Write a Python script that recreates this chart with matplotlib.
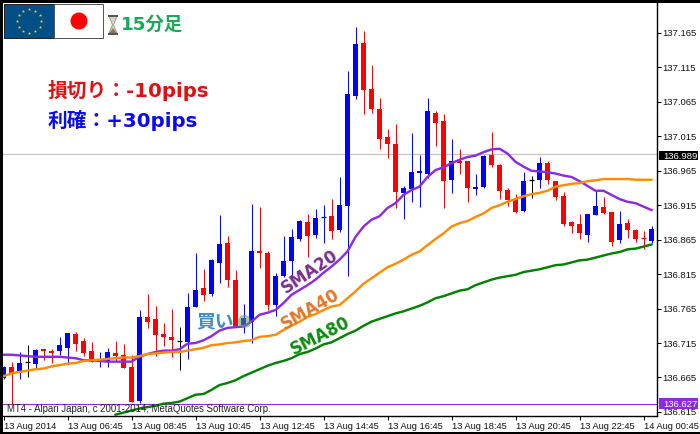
import numpy as np
import matplotlib
matplotlib.use("Agg")
import matplotlib.pyplot as plt
from matplotlib.patches import Rectangle, Polygon, Circle

opens = [136.664,136.680,136.672,136.688,136.685,136.706,136.703,136.703,136.708,136.728,136.718,136.703,136.688,136.688,136.701,136.698,136.680,136.631,136.753,136.750,136.728,136.724,136.718,136.717,136.767,136.795,136.786,136.831,136.860,136.807,136.741,136.746,136.849,136.846,136.770,136.812,136.834,136.866,136.891,136.872,136.898,136.899,136.879,136.914,137.074,137.151,137.084,137.055,137.014,137.004,136.933,136.939,136.962,136.960,137.049,137.037,136.952,136.979,136.979,136.939,136.941,136.988,136.973,136.937,136.924,136.907,136.952,136.952,136.976,136.950,136.928,136.891,136.888,136.872,136.901,136.912,136.905,136.865,136.889,136.879,136.867,136.863]
highs = [136.682,136.687,136.702,136.712,136.706,136.706,136.706,136.724,136.730,136.731,136.722,136.717,136.702,136.708,136.718,136.714,136.698,136.763,136.786,136.769,136.744,136.764,136.738,136.788,136.846,136.822,136.837,136.901,136.870,136.821,136.772,136.917,136.912,136.849,136.817,136.870,136.881,136.894,136.902,136.910,136.915,136.924,136.956,137.110,137.174,137.168,137.119,137.071,137.026,137.033,136.943,137.020,136.988,137.071,137.052,137.047,137.011,136.997,136.979,136.960,136.988,137.021,136.975,136.940,136.931,136.963,136.957,136.985,136.979,136.950,136.934,136.892,136.902,136.902,136.936,136.927,136.905,136.907,136.895,136.881,136.878,136.885]
lows = [136.663,136.627,136.663,136.666,136.679,136.691,136.686,136.698,136.685,136.703,136.696,136.688,136.680,136.680,136.689,136.679,136.629,136.628,136.737,136.696,136.711,136.695,136.676,136.692,136.767,136.776,136.783,136.802,136.796,136.739,136.730,136.715,136.824,136.763,136.754,136.811,136.814,136.863,136.840,136.867,136.860,136.866,136.876,136.812,137.069,137.047,137.049,136.997,136.984,136.911,136.895,136.920,136.912,136.955,137.001,136.911,136.933,136.960,136.920,136.930,136.940,136.970,136.924,136.914,136.904,136.905,136.926,136.940,136.946,136.923,136.885,136.875,136.866,136.862,136.901,136.902,136.856,136.860,136.867,136.862,136.852,136.860]
closes = [136.680,136.670,136.686,136.688,136.705,136.703,136.701,136.712,136.730,136.714,136.701,136.688,136.692,136.702,136.696,136.679,136.629,136.753,136.746,136.727,136.724,136.719,136.718,136.767,136.792,136.785,136.836,136.859,136.807,136.740,136.751,136.849,136.846,136.770,136.812,136.834,136.869,136.892,136.870,136.897,136.899,136.878,136.915,137.076,137.149,137.082,137.055,137.011,137.004,136.934,136.940,136.963,136.965,137.052,137.034,136.950,136.979,136.976,136.940,136.941,136.987,136.973,136.936,136.923,136.905,136.950,136.952,136.976,136.952,136.927,136.888,136.885,136.875,136.902,136.914,136.904,136.862,136.888,136.879,136.866,136.866,136.881]

sma20 = [136.698,136.698,136.697,136.696,136.695,136.695,136.695,136.695,136.694,136.693,136.690,136.690,136.689,136.688,136.688,136.688,136.688,136.695,136.699,136.702,136.704,136.704,136.706,136.714,136.715,136.719,136.725,136.733,136.737,136.738,136.739,136.746,136.756,136.759,136.763,136.773,136.785,136.792,136.799,136.807,136.817,136.826,136.836,136.848,136.869,136.884,136.894,136.899,136.911,136.918,136.930,136.937,136.942,136.956,136.966,136.970,136.976,136.981,136.985,136.987,136.992,136.996,136.997,136.990,136.978,136.971,136.965,136.964,136.963,136.961,136.958,136.956,136.950,136.943,136.936,136.936,136.930,136.924,136.920,136.918,136.913,136.908]
sma40 = [136.667,136.671,136.673,136.675,136.677,136.678,136.681,136.683,136.685,136.686,136.689,136.690,136.691,136.692,136.693,136.694,136.694,136.696,136.699,136.700,136.701,136.702,136.702,136.704,136.706,136.708,136.712,136.713,136.715,136.716,136.718,136.719,136.724,136.725,136.727,136.734,136.740,136.746,136.753,136.757,136.763,136.768,136.770,136.780,136.790,136.801,136.809,136.817,136.825,136.830,136.836,136.843,136.848,136.857,136.866,136.874,136.884,136.889,136.892,136.898,136.903,136.911,136.915,136.920,136.924,136.928,136.931,136.933,136.936,136.942,136.944,136.946,136.947,136.950,136.951,136.953,136.953,136.953,136.953,136.952,136.952,136.952]
sma80_start = 14
sma80 = [136.611,136.614,136.617,136.620,136.622,136.624,136.627,136.628,136.630,136.635,136.640,136.641,136.647,136.654,136.657,136.661,136.667,136.672,136.677,136.682,136.686,136.689,136.693,136.699,136.702,136.707,136.713,136.716,136.722,136.728,136.733,136.740,136.746,136.750,136.754,136.758,136.761,136.765,136.769,136.774,136.780,136.783,136.787,136.791,136.793,136.799,136.803,136.807,136.810,136.812,136.814,136.818,136.820,136.822,136.825,136.828,136.829,136.832,136.835,136.836,136.839,136.842,136.845,136.847,136.851,136.852,136.855,136.858]

y_ticks = [137.165,137.115,137.065,137.015,136.965,136.915,136.865,136.815,136.765,136.715,136.665,136.615]
x_labels = ["13 Aug 2014","13 Aug 06:45","13 Aug 08:45","13 Aug 10:45","13 Aug 12:45","13 Aug 14:45","13 Aug 16:45","13 Aug 18:45","13 Aug 20:45","13 Aug 22:45","14 Aug 00:45"]
bid_price = 136.989
low_price = 136.627
entry_bar, entry_price = 30, 136.747

W, H = 700, 434
fig = plt.figure(figsize=(7, 4.34), dpi=100, facecolor="black")
bg = fig.add_axes([3/W, 2/H, (W-3)/W, (H-5)/H], zorder=0)
bg.set_facecolor("white"); bg.set_xticks([]); bg.set_yticks([])
for s in bg.spines.values():
    s.set_visible(False)

PXL = 0.72  # 1 px in points
ax = fig.add_axes([3/W, (H-416)/H, 654/W, 413/H], zorder=1)
ax.set_facecolor("white")
ax.set_xlim(-0.0625, 81.6875)
ax.set_ylim(136.6091, 137.2085)
for s in ["left", "top"]:
    ax.spines[s].set_visible(False)
for s in ["right", "bottom"]:
    ax.spines[s].set_linewidth(1.4*PXL)

n = len(opens)
xs = np.arange(n)
ax.axhline(bid_price, color="#c0c0c0", lw=PXL*1.1, zorder=1)
ax.axhline(low_price, color="#8a2be2", lw=PXL*1.1, zorder=1)

for k in xs:
    o, h, l, c = opens[k], highs[k], lows[k], closes[k]
    col = "#0000ff" if c > o else ("#ff0000" if c < o else "black")
    ax.vlines(k, l, h, color=col, lw=PXL, zorder=2)
    if abs(c-o) < 0.002:
        ax.hlines(o, k-0.3125, k+0.3125, color=col, lw=PXL*1.3, zorder=2)
    else:
        ax.bar(k, abs(c-o), bottom=min(o, c), width=5/8, color=col, lw=0, zorder=2)

ax.plot(xs, sma20, color="#8a2be2", lw=PXL*2.4, zorder=3, solid_joinstyle="round")
ax.plot(xs, sma40, color="#ff8c00", lw=PXL*2.4, zorder=3, solid_joinstyle="round")
ax.plot(np.arange(sma80_start, n), sma80, color="#008000", lw=PXL*2.4, zorder=3, solid_joinstyle="round")
ax.scatter([entry_bar], [entry_price], s=90, color="#5f9a5f", alpha=0.55, lw=0, zorder=4)

ax.yaxis.tick_right()
ax.set_yticks(y_ticks)
ax.set_yticklabels([f"{v:.3f}" for v in y_ticks], fontsize=6.8, family="Liberation Sans", color="#111111")
ax.tick_params(axis="y", length=3*PXL*1.2, width=PXL, pad=1.3)
ax.set_xticks(xs[::8])
ax.set_xticklabels(x_labels, fontsize=6.7, family="Liberation Sans", ha="left", color="#111111")
ax.tick_params(axis="x", length=4*PXL, width=PXL, pad=1.2)

# overlay in pixel coordinates for the decorations
oa = fig.add_axes([0, 0, 1, 1], zorder=5)
oa.set_xlim(0, W); oa.set_ylim(H, 0); oa.axis("off")

for (y0, y1, fc, txt) in [(150.7, 159.7, "black", f"{bid_price:.3f}"), (398, 409, "#8a2be2", f"{low_price:.3f}")]:
    oa.add_patch(Rectangle((659, y0), 38.5, y1-y0, fc=fc, lw=0))
    oa.text(663, (y0+y1)/2, txt, color="white", fontsize=6.8, family="Liberation Sans", va="center_baseline")

oa.text(7, 409, "MT4 - Alpari Japan, c 2001-2014, MetaQuotes Software Corp.", fontsize=6.9,
        family="Liberation Sans", va="center", color="#222222")

# flags
oa.add_patch(Rectangle((4, 4), 50, 33.5, fc="#004f86", ec="#222222", lw=PXL))
oa.add_patch(Rectangle((54, 4), 49, 33.5, fc="white", ec="#555555", lw=PXL))
oa.add_patch(Circle((79, 21), 8.5, fc="#ff0000", lw=0))
ang = np.deg2rad(np.arange(0, 360, 30))
oa.scatter(29.3 + 12*np.cos(ang), 21 + 12*np.sin(ang), marker="*", s=6, color="#f7d417", lw=0)

# hourglass
oa.add_patch(Polygon([(109, 16), (117, 16), (113.6, 25), (117, 33), (109, 33), (112.4, 25)], fc="#d8d2c0", ec="#888888", lw=0.5))
oa.add_patch(Polygon([(109.5, 33), (116.5, 33), (113, 28)], fc="#8a7550", lw=0))
oa.add_patch(Rectangle((108, 14.5), 10, 2, fc="#555555", lw=0))
oa.add_patch(Rectangle((108, 32.5), 10, 2, fc="#555555", lw=0))

fam = ["DejaVu Sans", "Noto Sans CJK JP"]
oa.text(121, 24.5, "15分足", color="#1aa85a", fontsize=13.2, fontweight="bold", family=fam, va="center")
oa.text(48, 90.5, "損切り：-10pips", color="#e01010", fontsize=14.2, fontweight="bold", family=fam, va="center")
oa.text(48, 120.5, "利確：+30pips", color="#0b0bf0", fontsize=14.2, fontweight="bold", family=fam, va="center")
oa.text(196, 322, "買い", color="#2b7fb8", fontsize=13.5, fontweight="bold", family=["Noto Sans CJK JP"], va="center", alpha=0.9)

oa.text(310, 272, "SMA20", color="#7b2d8b", fontsize=12, fontweight="bold", rotation=34, ha="center", va="center", rotation_mode="anchor")
oa.text(310, 310, "SMA40", color="#e0762a", fontsize=12, fontweight="bold", rotation=30, ha="center", va="center", rotation_mode="anchor")
oa.text(320, 336, "SMA80", color="#0f8a0f", fontsize=12, fontweight="bold", rotation=27, ha="center", va="center", rotation_mode="anchor")

fig.savefig("out.png", dpi=100, facecolor="black")
